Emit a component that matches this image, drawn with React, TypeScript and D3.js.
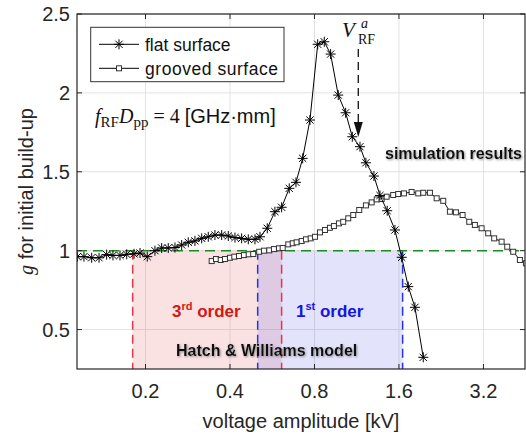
import * as d3 from "d3";

// flat surface (asterisks)
const flatV = [0.1143, 0.1207, 0.1286, 0.1366, 0.1454, 0.1531, 0.1622, 0.1714, 0.182, 0.1912, 0.2029, 0.2161, 0.2283, 0.241, 0.2547, 0.2691, 0.284, 0.3, 0.3171, 0.3347, 0.3535, 0.3736, 0.3944, 0.4167, 0.4402, 0.4647, 0.491, 0.5116, 0.5431, 0.5783, 0.611, 0.6504, 0.6872, 0.7261, 0.7708, 0.8214, 0.8669, 0.9133, 0.9721, 1.033, 1.091, 1.162, 1.22, 1.303, 1.369, 1.453, 1.548, 1.636, 1.727, 1.824, 1.953];
const flatG = [0.962, 0.962, 0.955, 0.955, 0.975, 0.97, 0.97, 0.977, 0.98, 0.985, 0.962, 1.0, 1.017, 1.017, 1.02, 1.036, 1.053, 1.062, 1.078, 1.088, 1.099, 1.099, 1.093, 1.083, 1.078, 1.072, 1.072, 1.088, 1.142, 1.247, 1.275, 1.395, 1.433, 1.585, 1.828, 2.308, 2.324, 2.246, 1.986, 1.874, 1.722, 1.659, 1.557, 1.473, 1.35, 1.253, 1.131, 0.958, 0.772, 0.641, 0.324];

// grooved surface (squares)
const grooveV = [0.3442, 0.3566, 0.3706, 0.3838, 0.3999, 0.4144, 0.4306, 0.4485, 0.4663, 0.484, 0.5084, 0.5285, 0.5521, 0.5736, 0.5978, 0.6162, 0.6452, 0.669, 0.6912, 0.7201, 0.746, 0.7754, 0.8032, 0.8369, 0.8718, 0.9082, 0.9384, 0.9779, 1.0127, 1.0554, 1.0996, 1.155, 1.22, 1.279, 1.333, 1.388, 1.446, 1.526, 1.59, 1.667, 1.775, 1.874, 1.953, 2.063, 2.18, 2.301, 2.43, 2.553, 2.697, 2.848, 2.983, 3.152, 3.327, 3.495, 3.714, 3.889, 4.085, 4.316, 4.535];
const grooveG = [0.934, 0.947, 0.941, 0.947, 0.955, 0.962, 0.966, 0.972, 0.977, 0.979, 0.993, 1.0, 1.002, 1.01, 1.015, 1.017, 1.04, 1.047, 1.053, 1.061, 1.072, 1.078, 1.088, 1.116, 1.131, 1.145, 1.156, 1.173, 1.183, 1.205, 1.226, 1.258, 1.287, 1.306, 1.325, 1.327, 1.342, 1.353, 1.359, 1.363, 1.372, 1.363, 1.367, 1.367, 1.332, 1.316, 1.247, 1.243, 1.226, 1.183, 1.163, 1.142, 1.11, 1.078, 1.057, 1.025, 0.993, 0.941, 0.92];

const xTicks = [0.2, 0.4, 0.8, 1.6, 3.2];
const yTicks = [0.5, 1, 1.5, 2, 2.5];

// Hatch & Williams bands
const thirdOrder = [0.18, 0.611];
const firstOrder = [0.502, 1.649];
const vRFa = 1.146;
const threshold = 1;

const W = 526, H = 438;
const L = 77, R = 525, T = 14, B = 369;
const sans = "'Liberation Sans', Arial, Helvetica, sans-serif";
const serif = "'Liberation Serif', 'Times New Roman', serif";

const x = d3.scaleLog().base(2).domain([0.114, 4.5]).range([L, R]);
const y = d3.scaleLinear().domain([0.25, 2.5]).range([B, T]);

const star = "M-5,0H5M0,-5V5M-3.6,-3.6L3.6,3.6M-3.6,3.6L3.6,-3.6";

export default function App() {
  const flat = flatV.map((v, i) => [v, flatG[i]] as [number, number]);
  const groove = grooveV.map((v, i) => [v, grooveG[i]] as [number, number]);
  const line = d3.line<[number, number]>().x(d => x(d[0])).y(d => y(d[1]));
  const band = (r: number[], fill: string) => (
    <rect x={x(r[0])} y={y(threshold)} width={x(r[1]) - x(r[0])} height={B - y(threshold)} fill={fill} />
  );
  const vdash = (v: number, color: string) => (
    <line x1={x(v)} x2={x(v)} y1={y(threshold)} y2={B} stroke={color} strokeWidth={1.5} strokeDasharray="9,5" />
  );

  return (
    <svg width={W} height={H} style={{ position: "absolute", left: 0, top: 0, background: "#fff" }} fontFamily={sans}>
      <defs>
        <clipPath id="plot"><rect x={L} y={T} width={R - L} height={B - T} /></clipPath>
        <filter id="shadow" x="-10%" y="-30%" width="120%" height="160%">
          <feDropShadow dx="1" dy="1" stdDeviation="0.9" floodColor="#777" floodOpacity="0.8" />
        </filter>
      </defs>
      <rect x={L} y={T} width={R - L} height={B - T} fill="#fff" />

      {/* grid */}
      {xTicks.map(t => <line key={"gx" + t} x1={x(t)} x2={x(t)} y1={T} y2={B} stroke="#e2e2e2" />)}
      {yTicks.map(t => <line key={"gy" + t} x1={L} x2={R} y1={y(t)} y2={y(t)} stroke="#e2e2e2" />)}

      {/* model bands */}
      {band(thirdOrder, "rgba(220,60,70,0.15)")}
      {band(firstOrder, "rgba(70,70,225,0.15)")}
      {vdash(thirdOrder[0], "#ee3344")}
      {vdash(thirdOrder[1], "#ee3344")}
      {vdash(firstOrder[0], "#2233ee")}
      {vdash(firstOrder[1], "#2233ee")}

      <line x1={L} x2={R} y1={y(threshold)} y2={y(threshold)} stroke="#1f8a1f" strokeWidth={1.5} strokeDasharray="10,6" />

      <g clipPath="url(#plot)">
        <path d={line(groove) ?? ""} fill="none" stroke="#111" strokeWidth={1} />
        {groove.map((d, i) => (
          <rect key={"s" + i} x={x(d[0]) - 2.5} y={y(d[1]) - 2.5} width={5} height={5} fill="#fff" stroke="#333" strokeWidth={1} />
        ))}
        <path d={line(flat) ?? ""} fill="none" stroke="#000" strokeWidth={1} />
        {flat.map((d, i) => (
          <path key={"f" + i} transform={`translate(${x(d[0])},${y(d[1])})`} d={star} stroke="#000" strokeWidth={1} fill="none" />
        ))}
      </g>

      {/* axes box and ticks */}
      <rect x={L} y={T} width={R - L} height={B - T} fill="none" stroke="#262626" strokeWidth={1.2} />
      {xTicks.map(t => (
        <g key={"tx" + t}>
          <line x1={x(t)} x2={x(t)} y1={B} y2={B - 5} stroke="#262626" />
          <line x1={x(t)} x2={x(t)} y1={T} y2={T + 5} stroke="#262626" />
          <text x={x(t)} y={398} textAnchor="middle" fontSize={20} fill="#262626">{t}</text>
        </g>
      ))}
      {yTicks.map(t => (
        <g key={"ty" + t}>
          <line x1={L} x2={L + 5} y1={y(t)} y2={y(t)} stroke="#262626" />
          <line x1={R} x2={R - 5} y1={y(t)} y2={y(t)} stroke="#262626" />
          <text x={70} y={y(t)} dy="0.35em" textAnchor="end" fontSize={20} fill="#262626">{t}</text>
        </g>
      ))}

      <text x={(L + R) / 2} y={428} textAnchor="middle" fontSize={20} fill="#262626">voltage amplitude [kV]</text>
      <text transform={`translate(33,${(T + B) / 2}) rotate(-90)`} textAnchor="middle" fontSize={20} fill="#262626">
        <tspan fontFamily={serif} fontStyle="italic">g</tspan> for initial build-up
      </text>

      {/* legend */}
      <rect x={90.7} y={27.3} width={193.3} height={54.4} fill="#fff" stroke="#333" strokeWidth={1} />
      <line x1={99} x2={139} y1={44.3} y2={44.3} stroke="#000" />
      <path transform="translate(119,44.3)" d={star} stroke="#000" fill="none" />
      <text x={145} y={50.5} fontSize={17.5} fill="#111">flat surface</text>
      <line x1={99} x2={139} y1={68.3} y2={68.3} stroke="#000" />
      <rect x={116.5} y={65.8} width={5} height={5} fill="#fff" stroke="#333" />
      <text x={145} y={74.5} fontSize={17.5} textLength={133} fill="#111">grooved surface</text>

      {/* formula */}
      <text x={95} y={123} fontSize={20} fill="#111">
        <tspan fontFamily={serif} fontStyle="italic">f</tspan>
        <tspan fontFamily={serif} fontSize={15} dy={4}>RF</tspan>
        <tspan fontFamily={serif} fontStyle="italic" dy={-4}>D</tspan>
        <tspan fontFamily={serif} fontSize={15} dy={4}>pp</tspan>
        <tspan fontFamily={serif} dy={-4}>{" = 4 "}</tspan>
        <tspan>[GHz·mm]</tspan>
      </text>

      {/* V_RF^a annotation */}
      <text x={342} y={37} fontFamily={serif} fontStyle="italic" fontSize={21} fill="#111">V</text>
      <text x={361} y={28} fontFamily={serif} fontStyle="italic" fontSize={14} fill="#111">a</text>
      <text x={358} y={44} fontFamily={serif} fontSize={14} fill="#111">RF</text>
      <line x1={x(vRFa)} x2={x(vRFa)} y1={49} y2={123} stroke="#111" strokeWidth={1.3} strokeDasharray="8,5" />
      <path d={`M${x(vRFa) - 4.5},122L${x(vRFa) + 4.5},122L${x(vRFa)},137Z`} fill="#111" />

      <text x={385} y={159} fontSize={16} fontWeight="bold" fill="#111" filter="url(#shadow)">simulation results</text>
      <text x={176} y={356} fontSize={16} fontWeight="bold" fill="#111" filter="url(#shadow)">Hatch &amp; Williams model</text>

      <text x={172} y={317} fontSize={17} fontWeight="bold" fill="#d01818">
        3<tspan fontSize={11} dy={-7}>rd</tspan><tspan dy={7}> order</tspan>
      </text>
      <text x={296} y={317} fontSize={17} fontWeight="bold" fill="#1515e0">
        1<tspan fontSize={11} dy={-7}>st</tspan><tspan dy={7}> order</tspan>
      </text>
    </svg>
  );
}
